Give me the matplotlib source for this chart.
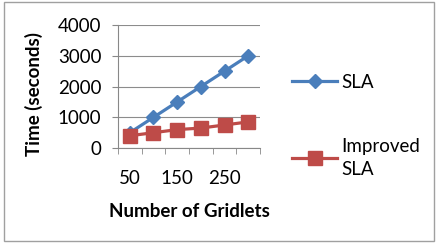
import numpy as np
from matplotlib import pyplot as plt
from matplotlib.patches import Rectangle

plt.rcParams['font.family'] = ['Lato', 'DejaVu Sans']

# data
gridlets = [50, 100, 150, 200, 250, 300]
sla = [500, 1000, 1500, 2000, 2500, 3000]
improved = [400, 500, 600, 650, 750, 850]

blue = '#4A7EBB'
red = '#BE4B48'
fs = 13.5

fig = plt.figure(figsize=(4.37, 2.48), dpi=100)
ax = fig.add_axes([0.27, 0.403, 0.325, 0.496])

x = np.arange(len(gridlets))
ax.plot(x, sla, color=blue, lw=2.3, marker='D', ms=7, label='SLA')
ax.plot(x, improved, color=red, lw=2.3, marker='s', ms=9.5, label='Improved\nSLA')

ax.set_xlim(-0.5, len(gridlets) - 0.5)
ax.set_ylim(0, 4000)
ax.set_yticks(range(0, 4001, 1000))
ax.set_xticks(x[::2])
ax.set_xticklabels([str(g) for g in gridlets[::2]])
ax.set_xticks(np.arange(-0.5, len(gridlets), 1), minor=True)
ax.tick_params(axis='x', which='major', length=0, labelsize=fs, pad=16)
ax.tick_params(axis='x', which='minor', length=4, color='#888888')
ax.tick_params(axis='y', length=4, color='#888888', labelsize=fs, pad=8)
ax.grid(axis='y', color='#8c8c8c', lw=0.8)
ax.set_axisbelow(True)
for s in ['top', 'right']:
    ax.spines[s].set_visible(False)
for s in ['left', 'bottom']:
    ax.spines[s].set_color('#888888')

ax.set_xlabel('Number of Gridlets', fontsize=fs, fontweight='bold', labelpad=11)
ax.set_ylabel('Time (seconds)', fontsize=fs, fontweight='bold')
ax.yaxis.set_label_coords(-0.53, 0.44)

leg = fig.legend(loc='upper left', bbox_to_anchor=(0.63, 0.77), frameon=False,
                 fontsize=fs, handlelength=2.4, labelspacing=2.5, handletextpad=0.2)
for t in leg.get_texts():
    t.set_linespacing(1.45)

fig.patches.append(Rectangle((0.009, 0.03), 0.984, 0.96, transform=fig.transFigure,
                             fill=False, edgecolor='#a0a0a0', lw=1))

fig.savefig('out.png', dpi=100)
